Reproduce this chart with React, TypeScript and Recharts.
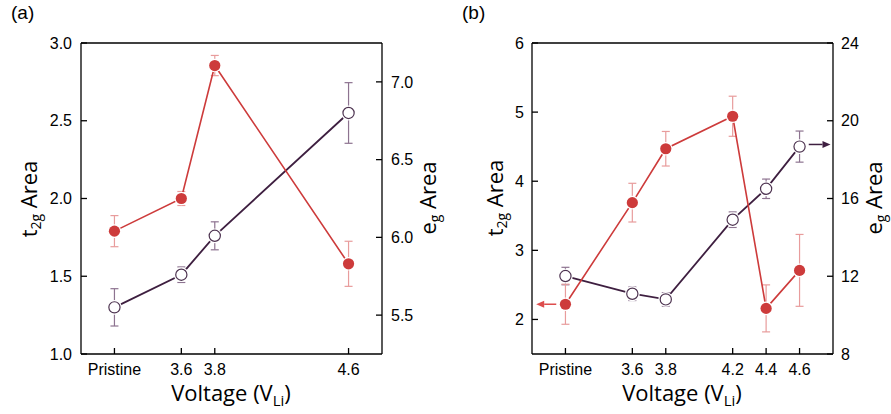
import React from "react";
import { ComposedChart, Line, XAxis, YAxis, ErrorBar, ReferenceLine } from "recharts";

// Pristine is drawn at 3.2 V so it keeps the figure's spacing left of 3.6 V
const voltagesA = [3.2, 3.6, 3.8, 4.6];
const xLabelsA = ["Pristine", "3.6", "3.8", "4.6"];
const t2gA = [1.79, 2.0, 2.855, 1.58];
const t2gErrA = [0.1, 0.045, 0.065, 0.145];
const egA = [5.55, 5.76, 6.01, 6.8];
const egErrA = [0.12, 0.05, 0.09, 0.195];

const voltagesB = [3.2, 3.6, 3.8, 4.2, 4.4, 4.6];
const xLabelsB = ["Pristine", "3.6", "3.8", "4.2", "4.4", "4.6"];
const t2gB = [2.22, 3.69, 4.47, 4.94, 2.16, 2.71];
const t2gErrB = [0.29, 0.28, 0.25, 0.29, 0.34, 0.52];
const egB = [12.01, 11.1, 10.81, 14.91, 16.5, 18.67];
const egErrB = [0.45, 0.35, 0.35, 0.4, 0.5, 0.8];

const t2gTicksA = [1, 1.5, 2, 2.5, 3];
const t2gMinorA = [1.25, 1.75, 2.25, 2.75];
const egTicksA = [5.5, 6, 6.5, 7];
const egMinorA = [5.75, 6.25, 6.75];

const t2gTicksB = [2, 3, 4, 5, 6];
const t2gMinorB = [2.5, 3.5, 4.5, 5.5];
const egTicksB = [8, 12, 16, 20, 24];
const egMinorB = [10, 14, 18, 22];

// arrows in panel (b) pointing at the axis each series belongs to
const arrowsB = [
  { axis: "t2g", from: 3.145, to: 3.025, y: 2.22 },
  { axis: "eg", from: 4.655, to: 4.785, y: 18.78 },
];

const RED = "#cd3b3b";
const RED_ERR = "#e89c9c";
const RED_ARROW = "#dd4d4d";
const PURPLE = "#3e1f40";
const PURPLE_MARK = "#4d3350";
const PURPLE_ERR = "#8d7390";
const TICK_FONT = "'Liberation Sans', Arial, sans-serif";
const TITLE_FONT = "'Open Sans', 'Noto Sans', sans-serif";

function buildRows(v: number[], t: number[], te: number[], e: number[], ee: number[]) {
  return v.map((x, i) => ({ v: x, t2g: t[i], t2gErr: te[i], eg: e[i], egErr: ee[i] }));
}

const FilledDot = (p: any) => {
  if (p.cx == null || p.cy == null) return null;
  return (
    <g key={`f-${p.index}`}>
      <circle cx={p.cx} cy={p.cy} r={6.8} fill="#fff" />
      <circle cx={p.cx} cy={p.cy} r={5.6} fill={RED} />
    </g>
  );
};

const OpenDot = (p: any) => {
  if (p.cx == null || p.cy == null) return null;
  return (
    <g key={`o-${p.index}`}>
      <circle cx={p.cx} cy={p.cy} r={7.4} fill="#fff" />
      <circle cx={p.cx} cy={p.cy} r={5.6} fill="#fff" stroke={PURPLE_MARK} strokeWidth={1.2} />
    </g>
  );
};

function arrowShape(color: string) {
  return (p: any) => {
    const { x1, y1, x2, y2 } = p;
    const dx = x2 - x1;
    const dy = y2 - y1;
    const len = Math.hypot(dx, dy) || 1;
    const ux = dx / len;
    const uy = dy / len;
    const hl = 8;
    const hw = 3.5;
    const bx = x2 - ux * hl;
    const by = y2 - uy * hl;
    return (
      <g>
        <line x1={x1} y1={y1} x2={bx} y2={by} stroke={color} strokeWidth={1.5} />
        <polygon
          points={`${x2},${y2} ${bx - uy * hw},${by + ux * hw} ${bx + uy * hw},${by - ux * hw}`}
          fill={color}
        />
      </g>
    );
  };
}

interface PanelProps {
  rows: ReturnType<typeof buildRows>;
  voltages: number[];
  xLabels: string[];
  t2gDomain: [number, number];
  t2gTicks: number[];
  t2gMinor: number[];
  egDomain: [number, number];
  egTicks: number[];
  egMinor: number[];
  decimals: number;
  width: number;
  marginLeft: number;
  marginRight: number;
  leftGap: number;
  rightGap: number;
  arrows?: typeof arrowsB;
}

function Panel(props: PanelProps) {
  const {
    rows, voltages, xLabels, t2gDomain, t2gTicks, t2gMinor, egDomain, egTicks, egMinor,
    decimals, width, marginLeft, marginRight, leftGap, rightGap, arrows = [],
  } = props;
  const xDomain: [number, number] = [3.0, 4.8];
  const fmtX = (v: number) => {
    const i = voltages.findIndex((x) => Math.abs(x - v) < 1e-6);
    return i >= 0 ? xLabels[i] : "";
  };
  const fmtY = (v: number) => v.toFixed(decimals);
  const tickStyle = { fontSize: 16, fill: "#000", fontFamily: TICK_FONT };
  const axisLine = { stroke: "#000", strokeWidth: 1.3 };
  const tickLine = { stroke: "#000", strokeWidth: 1.3 };

  return (
    <ComposedChart
      width={width}
      height={414}
      data={rows}
      margin={{ top: 43, right: marginRight, bottom: 30, left: marginLeft }}
    >
      <XAxis
        dataKey="v"
        type="number"
        domain={xDomain}
        allowDataOverflow
        ticks={voltages}
        interval={0}
        tickFormatter={fmtX}
        tick={tickStyle}
        tickSize={-6}
        tickMargin={16}
        axisLine={axisLine}
        tickLine={tickLine}
        height={30}
      />
      <XAxis
        xAxisId="top"
        orientation="top"
        mirror
        type="number"
        domain={xDomain}
        allowDataOverflow
        ticks={voltages}
        interval={0}
        tick={false}
        tickSize={6}
        axisLine={axisLine}
        tickLine={tickLine}
        height={10}
      />
      <YAxis
        yAxisId="t2g"
        type="number"
        domain={t2gDomain}
        allowDataOverflow
        ticks={t2gTicks}
        interval={0}
        tickFormatter={fmtY}
        tick={tickStyle}
        tickSize={-6}
        tickMargin={6 + leftGap}
        axisLine={axisLine}
        tickLine={tickLine}
        width={40}
      />
      <YAxis
        yAxisId="t2gMinor"
        mirror
        type="number"
        domain={t2gDomain}
        allowDataOverflow
        ticks={t2gMinor}
        interval={0}
        tick={false}
        tickSize={4}
        axisLine={false}
        tickLine={tickLine}
        width={10}
      />
      <YAxis
        yAxisId="eg"
        orientation="right"
        type="number"
        domain={egDomain}
        allowDataOverflow
        ticks={egTicks}
        interval={0}
        tickFormatter={fmtY}
        tick={tickStyle}
        tickSize={-6}
        tickMargin={6 + rightGap}
        axisLine={axisLine}
        tickLine={tickLine}
        width={45}
      />
      <YAxis
        yAxisId="egMinor"
        orientation="right"
        mirror
        type="number"
        domain={egDomain}
        allowDataOverflow
        ticks={egMinor}
        interval={0}
        tick={false}
        tickSize={4}
        axisLine={false}
        tickLine={tickLine}
        width={10}
      />

      {/* e_g Area — open purple circles, right axis */}
      <Line
        yAxisId="eg"
        dataKey="eg"
        stroke={PURPLE}
        strokeWidth={1.8}
        dot={OpenDot}
        activeDot={false}
        isAnimationActive={false}
      >
        <ErrorBar dataKey="egErr" direction="y" width={4} stroke={PURPLE_ERR} strokeWidth={1.2} />
      </Line>

      {/* t_2g Area — filled red circles, left axis */}
      <Line
        yAxisId="t2g"
        dataKey="t2g"
        stroke={RED}
        strokeWidth={1.6}
        dot={FilledDot}
        activeDot={false}
        isAnimationActive={false}
      >
        <ErrorBar dataKey="t2gErr" direction="y" width={4} stroke={RED_ERR} strokeWidth={1.2} />
      </Line>

      {arrows.map((a, i) => (
        <ReferenceLine
          key={i}
          yAxisId={a.axis}
          segment={[
            { x: a.from, y: a.y },
            { x: a.to, y: a.y },
          ]}
          shape={arrowShape(a.axis === "t2g" ? RED_ARROW : PURPLE)}
        />
      ))}
    </ComposedChart>
  );
}

function Titles() {
  const f = { fontFamily: TITLE_FONT, fill: "#000" };
  const yTitle = (x: number, cy: number, main: string, s: string) => (
    <text transform={`translate(${x},${cy}) rotate(-90)`} textAnchor="middle" fontSize={22} {...f}>
      {main}
      <tspan fontSize={14} dy={4}>
        {s}
      </tspan>
      <tspan dy={-4}> Area</tspan>
    </text>
  );
  const xTitle = (cx: number) => (
    <text x={cx} y={401} textAnchor="middle" fontSize={22} {...f}>
      Voltage (V
      <tspan fontSize={15} dy={5}>
        Li
      </tspan>
      <tspan dy={-5}>)</tspan>
    </text>
  );
  return (
    <svg
      width={891}
      height={414}
      style={{ position: "absolute", left: 0, top: 0, pointerEvents: "none" }}
    >
      <text x={11} y={19} fontSize={19} fontFamily={TICK_FONT}>(a)</text>
      <text x={462} y={19} fontSize={19} fontFamily={TICK_FONT}>(b)</text>
      {xTitle(231)}
      {xTitle(682)}
      {yTitle(37, 199, "t", "2g")}
      {yTitle(436, 198, "e", "g")}
      {yTitle(503, 198, "t", "2g")}
      {yTitle(882, 198, "e", "g")}
    </svg>
  );
}

export default function App() {
  const rowsA = buildRows(voltagesA, t2gA, t2gErrA, egA, egErrA);
  const rowsB = buildRows(voltagesB, t2gB, t2gErrB, egB, egErrB);
  return (
    <div style={{ position: "absolute", left: 0, top: 0, width: 891, height: 414, background: "#fff" }}>
      <div style={{ position: "absolute", left: 0, top: 0 }}>
        <Panel
          rows={rowsA}
          voltages={voltagesA}
          xLabels={xLabelsA}
          t2gDomain={[1, 3]}
          t2gTicks={t2gTicksA}
          t2gMinor={t2gMinorA}
          egDomain={[5.25, 7.25]}
          egTicks={egTicksA}
          egMinor={egMinorA}
          decimals={1}
          width={445}
          marginLeft={41}
          marginRight={18}
          leftGap={9}
          rightGap={9}
        />
      </div>
      <div style={{ position: "absolute", left: 445, top: 0 }}>
        <Panel
          rows={rowsB}
          voltages={voltagesB}
          xLabels={xLabelsB}
          t2gDomain={[1.5, 6]}
          t2gTicks={t2gTicksB}
          t2gMinor={t2gMinorB}
          egDomain={[8, 24]}
          egTicks={egTicksB}
          egMinor={egMinorB}
          decimals={0}
          width={446}
          marginLeft={47}
          marginRight={13}
          leftGap={8}
          rightGap={8}
          arrows={arrowsB}
        />
      </div>
      <Titles />
    </div>
  );
}
